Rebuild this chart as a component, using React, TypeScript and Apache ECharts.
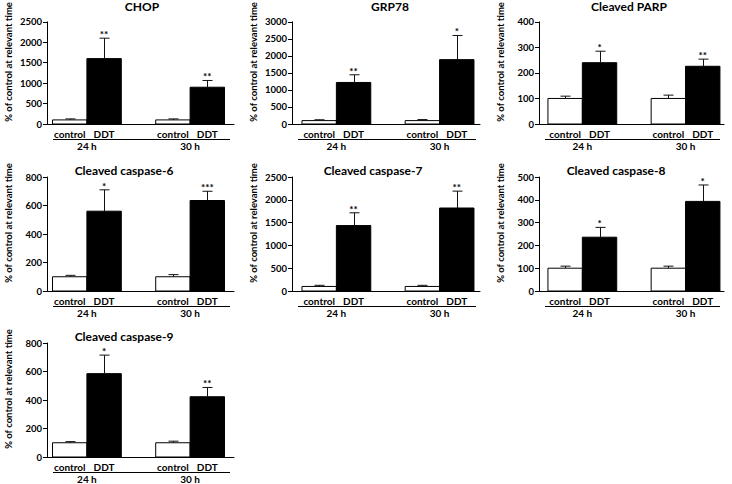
import React, { useEffect, useRef } from "react";
import * as echarts from "echarts";

// ---- data ----
const titles = [
  "CHOP",
  "GRP78",
  "Cleaved PARP",
  "Cleaved caspase-6",
  "Cleaved caspase-7",
  "Cleaved caspase-8",
  "Cleaved caspase-9",
];
const timeGroups = ["24 h", "30 h"];
const treatments = ["control", "DDT"];
const yAxisName = "% of control at relevant time";
const yMax = [2500, 3000, 400, 800, 2500, 500, 800];
const yStep = [500, 500, 100, 200, 500, 100, 200];

const controlMean = [
  [100, 100], [100, 100], [100, 100], [100, 100], [100, 100], [100, 100], [100, 100],
];
const controlErr = [
  [25, 25], [25, 30], [9, 13], [10, 15], [25, 25], [9, 9], [8, 11],
];
const ddtMean = [
  [1600, 900], [1220, 1890], [240, 226], [560, 635], [1435, 1820], [236, 393], [585, 423],
];
const ddtErr = [
  [500, 165], [225, 710], [45, 28], [150, 65], [280, 370], [43, 72], [130, 65],
];
const ddtStars = [
  ["**", "**"], ["**", "*"], ["*", "**"], ["*", "***"], ["**", "**"], ["*", "*"], ["*", "**"],
];

// ---- layout ----
const FONT = "Lato";
const colLeft = [47, 292, 539];
const colWidth = [187, 188, 185];
const colPad = [0.16, 0.29, 0.26]; // in bar-slot units
const slotPx = 34.4;
const rowTop = [12, 177, 343];
const rowHeight = [112, 114, 114];
const titleX = [142, 390, 629, 124, 373, 616, 124];
const titleY = [6, 6, 6, 170, 170, 170, 336];

export default function App() {
  const ref = useRef<HTMLDivElement>(null);
  useEffect(() => {
    document.body.style.margin = "0";
    if (!ref.current) return;
    const chart = echarts.init(ref.current, undefined, { renderer: "svg" });

    const grids: any[] = [];
    const xAxes: any[] = [];
    const yAxes: any[] = [];
    const series: any[] = [];
    const graphics: any[] = [];

    titles.forEach((title, p) => {
      const col = p % 3;
      const row = Math.floor(p / 3);
      grids.push({
        left: colLeft[col],
        top: rowTop[row],
        width: colWidth[col],
        height: rowHeight[row],
        containLabel: false,
      });
      const xMin = -colPad[col];
      const xMax = colWidth[col] / slotPx - colPad[col];
      xAxes.push({
        type: "value",
        gridIndex: p,
        min: xMin,
        max: xMax,
        axisLine: { show: true, onZero: false, lineStyle: { color: "#000", width: 1 } },
        axisTick: { show: false },
        axisLabel: { show: false },
        splitLine: { show: false },
      });
      yAxes.push({
        type: "value",
        gridIndex: p,
        min: 0,
        max: yMax[p],
        interval: yStep[p],
        axisLine: { show: true, onZero: false, lineStyle: { color: "#000", width: 1 } },
        axisTick: { show: true, inside: false, length: 4, lineStyle: { color: "#000" } },
        splitLine: { show: false },
        axisLabel: {
          color: "#000",
          fontWeight: "bold",
          fontSize: 9.5,
          fontFamily: FONT,
          margin: 5,
          formatter: (v: number) => String(v),
        },
        name: yAxisName,
        nameLocation: "middle",
        nameGap: 34,
        nameTextStyle: {
          color: "#000",
          fontWeight: "bold",
          fontSize: 9.5,
          fontFamily: FONT,
          padding: [0, 0, 0, 22],
        },
      });

      const items: any[] = [];
      timeGroups.forEach((grp, g) => {
        treatments.forEach((tr, s) => {
          items.push({
            x: g * 3 + s + 0.5,
            mean: s === 0 ? controlMean[p][g] : ddtMean[p][g],
            err: s === 0 ? controlErr[p][g] : ddtErr[p][g],
            stars: s === 0 ? "" : ddtStars[p][g],
            label: tr,
            group: grp,
            g,
            s,
          });
        });
      });

      series.push({
        type: "custom",
        xAxisIndex: p,
        yAxisIndex: p,
        clip: false,
        data: items.map((it) => [it.x, it.mean + it.err]),
        encode: { x: 0, y: 1 },
        renderItem: (params: any, api: any) => {
          const it = items[params.dataIndex];
          const base = api.coord([it.x, 0]);
          const top = api.coord([it.x, it.mean]);
          const errTop = api.coord([it.x, it.mean + it.err]);
          const w = api.size([1, 0])[0];
          const cs = params.coordSys;
          const cx = Math.round(top[0]) + 0.5;
          const children: any[] = [
            {
              type: "rect",
              shape: { x: base[0] - w / 2, y: top[1], width: w, height: base[1] - top[1] },
              style: { fill: it.s === 0 ? "#fff" : "#000", stroke: "#000", lineWidth: 1 },
            },
            {
              type: "line",
              shape: { x1: cx, y1: top[1], x2: cx, y2: errTop[1] },
              style: { stroke: "#111", lineWidth: 1 },
            },
            {
              type: "line",
              shape: { x1: cx - 5, y1: errTop[1], x2: cx + 5, y2: errTop[1] },
              style: { stroke: "#111", lineWidth: 1 },
            },
            {
              type: "text",
              x: top[0],
              y: base[1] + 10,
              style: {
                text: it.label,
                fill: "#000",
                font: `bold 10px ${FONT}`,
                align: "center",
                verticalAlign: "middle",
              },
            },
          ];
          if (it.stars) {
            children.push({
              type: "text",
              x: top[0],
              y: errTop[1] - 4,
              style: {
                text: it.stars,
                fill: "#000",
                font: `bold 10px ${FONT}`,
                align: "center",
                verticalAlign: "middle",
              },
            });
          }
          if (it.s === 0) {
            const gc = api.coord([it.x + 0.5, 0]);
            children.push({
              type: "text",
              x: gc[0],
              y: base[1] + 22,
              style: {
                text: it.group,
                fill: "#000",
                font: `bold 10px ${FONT}`,
                align: "center",
                verticalAlign: "middle",
              },
            });
            if (it.g === 0) {
              const ly = Math.round(base[1] + 15) + 0.5;
              children.push({
                type: "line",
                shape: { x1: cs.x + 6, y1: ly, x2: cs.x + cs.width - 4, y2: ly },
                style: { stroke: "#000", lineWidth: 1 },
              });
            }
          }
          return { type: "group", children };
        },
      });

      graphics.push({
        type: "text",
        x: titleX[p],
        y: titleY[p],
        style: {
          text: title,
          fill: "#000",
          font: `bold 12px ${FONT}`,
          align: "center",
          verticalAlign: "middle",
        },
      });
    });

    chart.setOption({
      animation: false,
      backgroundColor: "#fff",
      grid: grids,
      xAxis: xAxes,
      yAxis: yAxes,
      series,
      graphic: graphics,
    });
    return () => chart.dispose();
  }, []);
  return <div ref={ref} style={{ width: 732, height: 484 }} />;
}
